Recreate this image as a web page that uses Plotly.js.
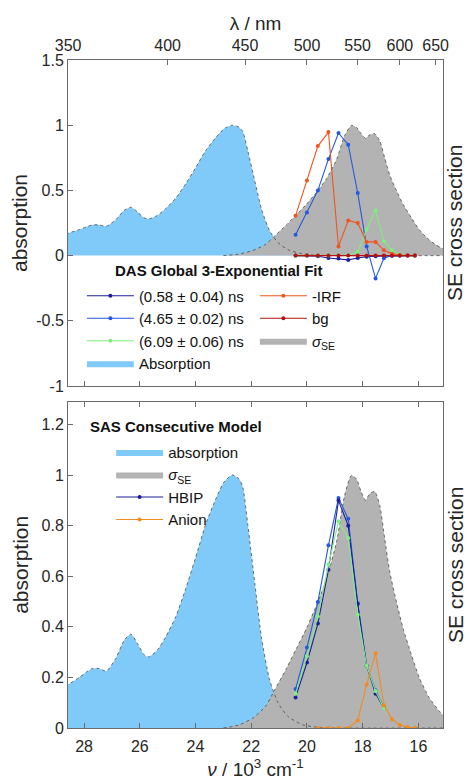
<!DOCTYPE html>
<html>
<head>
<meta charset="utf-8">
<script src="https://cdn.plot.ly/plotly-3.0.1.min.js"></script>
<style>html,body{margin:0;padding:0;background:#fff;}#plot{width:470px;height:780px;}</style>
</head>
<body>
<div id="plot"></div>
<script>
// ---------- data ----------
// absorption spectrum (wavenumber in 10^3 cm^-1)
const absNu  = [28.65, 28.56, 28.18, 27.90, 27.70, 27.46, 27.20, 26.86, 26.56, 26.32, 26.08, 25.85, 25.67, 25.37, 25.07, 24.71, 24.35, 23.99, 23.63, 23.27, 22.98, 22.68, 22.44, 22.30, 22.12, 21.87, 21.63, 21.34, 21.04, 20.68, 20.14, 19.60, 19.00, 15.00];
const absVal = [0.165, 0.172, 0.199, 0.222, 0.235, 0.235, 0.225, 0.275, 0.347, 0.371, 0.334, 0.290, 0.281, 0.308, 0.360, 0.440, 0.551, 0.676, 0.807, 0.906, 0.972, 1.000, 0.985, 0.950, 0.800, 0.570, 0.355, 0.190, 0.100, 0.045, 0.012, 0.003, 0.000, 0.000];
// stimulated emission cross section (normalised)
const seNu  = [23.00, 22.44, 21.96, 21.50, 21.16, 20.74, 20.38, 20.02, 19.66, 19.30, 18.94, 18.65, 18.41, 18.23, 18.05, 17.90, 17.75, 17.57, 17.39, 17.21, 17.03, 16.79, 16.55, 16.25, 15.96, 15.60, 15.12, 15.00];
const seVal = [0.000, 0.012, 0.038, 0.084, 0.150, 0.235, 0.314, 0.393, 0.485, 0.590, 0.735, 0.919, 0.998, 0.985, 0.932, 0.900, 0.926, 0.935, 0.880, 0.748, 0.617, 0.498, 0.393, 0.288, 0.196, 0.117, 0.051, 0.045];
// probe points (490 ... 620 nm)
const probeNu = [20.41, 20.00, 19.61, 19.23, 18.87, 18.52, 18.18, 17.86, 17.54, 17.24, 16.95, 16.67, 16.39, 16.13];
// DAS (top panel)
const das058 = [0.000, 0.000, -0.005, -0.018, -0.023, -0.033, -0.018, -0.008, -0.005, -0.003, -0.002, 0.000, 0.000, 0.000];
const das465 = [0.160, 0.330, 0.500, 0.740, 0.940, 0.850, 0.480, 0.070, -0.175, -0.020, 0.000, 0.000, 0.000, 0.000];
const das609 = [0.000, 0.000, 0.000, 0.000, 0.003, 0.005, 0.030, 0.200, 0.345, 0.110, 0.040, 0.010, 0.000, 0.000];
const irf    = [0.305, 0.575, 0.840, 0.947, 0.070, 0.270, 0.250, 0.105, 0.105, 0.040, 0.015, 0.005, 0.000, 0.000];
const bgVal  = [0.000, 0.000, 0.000, 0.000, 0.000, 0.000, 0.000, 0.000, 0.000, 0.000, 0.000, 0.000, 0.000, 0.000];
// SAS (bottom panel)
const sasNu   = [20.41, 20.00, 19.61, 19.23, 18.87, 18.52, 18.18, 17.86, 17.54, 17.24];
const hbipA   = [0.121, 0.259, 0.413, 0.626, 0.899, 0.800, 0.490, 0.246, 0.135, 0.080];
const hbipB   = [0.154, 0.318, 0.498, 0.722, 0.909, 0.827, 0.494, 0.246, 0.149, 0.080];
const hbipC   = [0.135, 0.284, 0.442, 0.646, 0.817, 0.751, 0.448, 0.246, 0.146, 0.078];
const anionNu = [19.61, 19.23, 18.87, 18.52, 18.18, 17.86, 17.54, 17.24, 16.95, 16.67, 16.39, 16.13];
const anion   = [0.000, 0.000, 0.000, 0.000, 0.030, 0.172, 0.295, 0.090, 0.035, 0.012, 0.004, 0.000];
// ticks
const nuTicks = [28, 26, 24, 22, 20, 18, 16];
const lamTicks = [350, 400, 450, 500, 550, 600, 650];
const topYTicks = [-1, -0.5, 0, 0.5, 1, 1.5];
const topYText = ['-1', '-0.5', '0', '0.5', '1', '1.5'];
const botYTicks = [0, 0.2, 0.4, 0.6, 0.8, 1, 1.2];
const botYText = ['0', '0.2', '0.4', '0.6', '0.8', '1', '1.2'];

// ---------- styles ----------
const FONT = 'Liberation Sans, Arial, Helvetica, sans-serif';
const TXT = '#262626';
const AX = '#6a6a6a';
const C_ABS = '#80CAF9', C_SE = '#B3B3B3', C_EDGE = '#4a4a4a';
const C_NAVY = '#1E1E9C', C_BLUE = '#2159E0', C_GREEN = '#7DF07D', C_IRF = '#F2531F', C_BG = '#B01414', C_ANION = '#F28C1E';
const SIGMA = '<i>σ</i><sub>SE</sub>';

function fillTrace(x, y, color, name, xa, ya, legend, rank) {
  return {x: x, y: y, type: 'scatter', mode: 'lines', fill: 'tozeroy', fillcolor: color,
    line: {color: 'rgba(0,0,0,0)', width: 0, shape: 'spline', smoothing: 0.6},
    name: name, xaxis: xa, yaxis: ya, legend: legend, legendrank: rank, hoverinfo: 'skip'};
}
function edgeTrace(x, y, xa, ya) {
  return {x: x, y: y, type: 'scatter', mode: 'lines',
    line: {color: C_EDGE, width: 0.8, dash: 'dot', shape: 'spline', smoothing: 0.6},
    showlegend: false, xaxis: xa, yaxis: ya, hoverinfo: 'skip'};
}
function lineTrace(x, y, color, name, xa, ya, legend, rank, show) {
  return {x: x, y: y, type: 'scatter', mode: 'lines+markers',
    line: {color: color, width: 1.1}, marker: {color: color, size: 4},
    name: name, xaxis: xa, yaxis: ya, legend: legend, legendrank: rank, showlegend: show};
}

const traces = [
  // top panel
  fillTrace(absNu, absVal, C_ABS, 'Absorption', 'x', 'y', 'legend', 7),
  fillTrace(seNu, seVal, C_SE, SIGMA, 'x', 'y', 'legend', 6),
  edgeTrace(absNu, absVal, 'x', 'y'),
  edgeTrace(seNu, seVal, 'x', 'y'),
  lineTrace(probeNu, das058, C_NAVY, '(0.58 ± 0.04) ns', 'x', 'y', 'legend', 1, true),
  lineTrace(probeNu, das465, C_BLUE, '(4.65 ± 0.02) ns', 'x', 'y', 'legend', 3, true),
  lineTrace(probeNu, das609, C_GREEN, '(6.09 ± 0.06) ns', 'x', 'y', 'legend', 5, true),
  lineTrace(probeNu, irf, C_IRF, '-IRF', 'x', 'y', 'legend', 2, true),
  lineTrace(probeNu, bgVal, C_BG, 'bg', 'x', 'y', 'legend', 4, true),
  {x: [], y: [], type: 'scatter', xaxis: 'x2', yaxis: 'y', showlegend: false},
  // bottom panel
  fillTrace(absNu, absVal, C_ABS, 'absorption', 'x3', 'y2', 'legend2', 1),
  fillTrace(seNu, seVal, C_SE, SIGMA, 'x3', 'y2', 'legend2', 2),
  edgeTrace(absNu, absVal, 'x3', 'y2'),
  edgeTrace(seNu, seVal, 'x3', 'y2'),
  lineTrace(sasNu, hbipB, C_BLUE, 'HBIP b', 'x3', 'y2', 'legend2', 10, false),
  lineTrace(sasNu, hbipA, C_NAVY, 'HBIP', 'x3', 'y2', 'legend2', 3, true),
  lineTrace(sasNu, hbipC, C_GREEN, 'HBIP c', 'x3', 'y2', 'legend2', 11, false),
  lineTrace(anionNu, anion, C_ANION, 'Anion', 'x3', 'y2', 'legend2', 4, true)
];

const XR = [28.575, 15.12];
const baseAx = {showgrid: false, zeroline: false, showline: true, linecolor: AX, linewidth: 1,
  ticks: 'inside', ticklen: 5, tickcolor: AX, tickfont: {family: FONT, size: 16, color: TXT}};

const layout = {
  width: 470, height: 780,
  margin: {l: 68, r: 27, t: 60, b: 52},
  paper_bgcolor: '#fff', plot_bgcolor: '#fff',
  font: {family: FONT, color: TXT},
  showlegend: true,
  xaxis: Object.assign({}, baseAx, {domain: [0, 1], anchor: 'y', range: XR, tickvals: nuTicks, showticklabels: false}),
  xaxis2: Object.assign({}, baseAx, {overlaying: 'x', anchor: 'y', side: 'top', range: XR,
    tickvals: lamTicks.map(l => 1e4 / l), ticktext: lamTicks.map(String), ticklabelstandoff: 2,
    title: {text: 'λ / nm', font: {family: FONT, size: 19, color: TXT}, standoff: 0}}),
  yaxis: Object.assign({}, baseAx, {domain: [0.512, 1], anchor: 'x', range: [-1, 1.5], mirror: true,
    tickvals: topYTicks, ticktext: topYText,
    title: {text: 'absorption', font: {family: FONT, size: 21, color: TXT}, standoff: 2}}),
  xaxis3: Object.assign({}, baseAx, {domain: [0, 1], anchor: 'y2', range: XR, mirror: 'ticks',
    tickvals: nuTicks, ticktext: nuTicks.map(String), ticklabelstandoff: 4,
    title: {text: '<i>ν</i> / 10<sup>3</sup> cm<sup>-1</sup>', font: {family: FONT, size: 19, color: TXT}, standoff: 9}}),
  yaxis2: Object.assign({}, baseAx, {domain: [0, 0.4885], anchor: 'x3', range: [0, 1.29], mirror: true,
    tickvals: botYTicks, ticktext: botYText,
    title: {text: 'absorption', font: {family: FONT, size: 21, color: TXT}, standoff: 7}}),
  legend: {orientation: 'h', x: 0.037, xanchor: 'left', y: 0.6715, yanchor: 'top',
    itemwidth: 47, entrywidth: 111, entrywidthmode: 'pixels', bgcolor: 'rgba(0,0,0,0)', borderwidth: 0,
    font: {family: FONT, size: 15, color: '#111'}, itemclick: false, traceorder: 'normal'},
  legend2: {orientation: 'v', x: 0.115, xanchor: 'left', y: 0.4375, yanchor: 'top',
    itemwidth: 47, bgcolor: 'rgba(0,0,0,0)', borderwidth: 0, tracegroupgap: 0,
    font: {family: FONT, size: 15, color: '#111'}, itemclick: false},
  annotations: [
    {text: '<b>DAS Global 3-Exponential Fit</b>', xref: 'paper', yref: 'paper', x: 0.12, y: 0.6856,
      xanchor: 'left', yanchor: 'middle', showarrow: false, font: {family: FONT, size: 15, color: '#111'}},
    {text: '<b>SAS Consecutive Model</b>', xref: 'paper', yref: 'paper', x: 0.053, y: 0.4506,
      xanchor: 'left', yanchor: 'middle', showarrow: false, font: {family: FONT, size: 15, color: '#111'}},
    {text: 'SE cross section', xref: 'paper', yref: 'paper', x: 1.032, y: 0.756, textangle: -90,
      xanchor: 'center', yanchor: 'middle', showarrow: false, font: {family: FONT, size: 21, color: TXT}},
    {text: 'SE cross section', xref: 'paper', yref: 'paper', x: 1.032, y: 0.244, textangle: -90,
      xanchor: 'center', yanchor: 'middle', showarrow: false, font: {family: FONT, size: 21, color: TXT}}
  ]
};

Plotly.newPlot('plot', traces, layout, {staticPlot: true, displayModeBar: false});
</script>
</body>
</html>
